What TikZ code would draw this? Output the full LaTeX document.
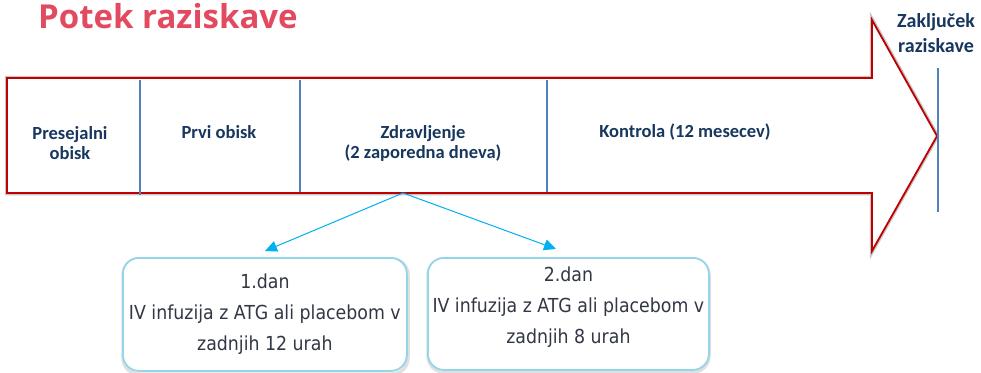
\documentclass[tikz,border=0pt]{standalone}
\usepackage{fontspec}
\setmainfont{Carlito}
\newfontfamily\titlefont{Open Sans}
\newfontfamily\condfont{DejaVu Sans Condensed}
\usetikzlibrary{arrows.meta}
\definecolor{titlered}{RGB}{226,74,96}
\definecolor{arrred}{RGB}{192,0,0}
\definecolor{divblue}{RGB}{79,129,189}
\definecolor{txtblue}{RGB}{23,55,94}
\definecolor{cyanarr}{RGB}{0,176,240}
\definecolor{boxedge}{RGB}{150,212,234}
\definecolor{daytext}{RGB}{50,55,68}
\tikzset{
  titlestyle/.style={font=\titlefont\bfseries\fontsize{33}{36}\selectfont, text=titlered, inner sep=0pt},
  arrowline/.style={draw=arrred, line width=1.8pt, line join=miter, fill=white},
  arrowhalo/.style={draw=black!22, line width=4.5pt, line join=miter},
  divider/.style={draw=divblue, line width=2.6pt},
  endline/.style={draw=divblue, line width=1.6pt},
  phase/.style={font=\bfseries\fontsize{18.5}{20}\selectfont, text=txtblue, align=center, inner sep=0pt},
  endlabel/.style={font=\bfseries\fontsize{20}{25}\selectfont, text=txtblue, inner sep=0pt, anchor=base west},
  daybox/.style={draw=boxedge, line width=1.8pt, rounded corners=16pt, fill=white},
  dayhalo/.style={draw=black!12, line width=3.5pt, rounded corners=16pt},
  daytxt/.style={font=\condfont\fontsize{19.3}{31}\selectfont, text=daytext, align=center, inner sep=0pt},
  conn/.style={draw=cyanarr, line width=1pt, -{Triangle[length=12pt,width=11pt]}}
}
\begin{document}
\begin{tikzpicture}[x=1pt,y=-1pt]
\useasboundingbox (0,0) rectangle (981,372);
% title
\node[titlestyle, anchor=base west] (title) at (38,28) {Potek raziskave};
% big arrow
\draw[arrowhalo] (7,78) -- (872,78) -- (872,20) -- (937,136) -- (872,251) -- (872,193) -- (7,193) -- cycle;
\draw[arrowline] (7,78) -- (872,78) -- (872,20) -- (937,136) -- (872,251) -- (872,193) -- (7,193) -- cycle;
% dividers
\draw[divider] (140,80) -- (140,195);
\draw[divider] (300,80) -- (300,192);
\draw[divider] (547,80) -- (547,192);
% end line
\draw[endline] (938,68) -- (938,212);
% phase labels
\node[phase] (p1) at (70,143) {Presejalni\\obisk};
\node[phase] (p2) at (219,132) {Prvi obisk};
\node[phase] (p3) at (423,143) {Zdravljenje\\(2 zaporedna dneva)};
\node[phase] (p4) at (685,132) {Kontrola (12 mesecev)};
\node[endlabel] (end1) at (897,27) {Zaključek};
\node[endlabel] (end2) at (898,52) {raziskave};
% day boxes
\draw[dayhalo] (123,259) rectangle (408,374);
\draw[dayhalo] (428,259) rectangle (709,372);
\node[daybox, minimum width=284pt, minimum height=113pt, anchor=north west] (d1) at (122,257) {};
\node[daybox, minimum width=281pt, minimum height=112pt, anchor=north west] (d2) at (427,257) {};
\node[daytxt] (t1) at (d1.center |- 0,314) {1.dan\\IV infuzija z ATG ali placebom v\\zadnjih 12 urah};
\node[daytxt] (t2) at (d2.center |- 0,307) {2.dan\\IV infuzija z ATG ali placebom v\\zadnjih 8 urah};
% connectors
\coordinate (src) at (403,193);
\coordinate (e1) at (265,251);
\coordinate (e2) at (556,249);
\draw[conn] (src) -- (e1);
\draw[conn] (src) -- (e2);
\end{tikzpicture}
\end{document}
